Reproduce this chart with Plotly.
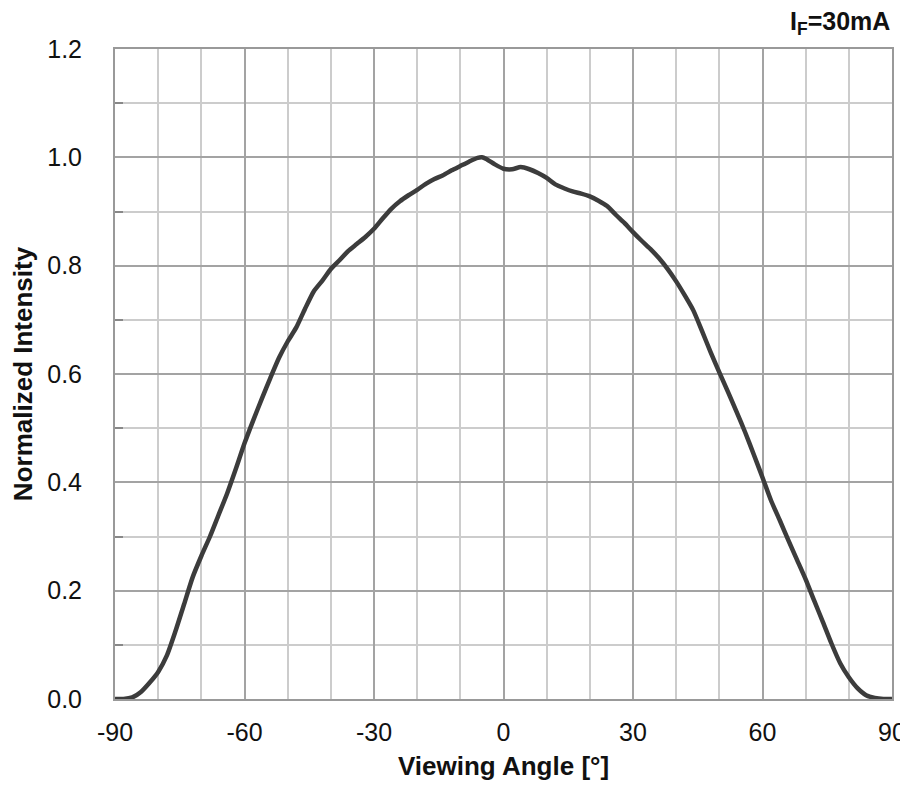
import plotly.graph_objects as go

angle = [-90, -88, -86, -84, -82, -80, -78, -76, -74, -72, -70, -68, -66, -64, -62, -60,
         -58, -56, -54, -52, -50, -48, -46, -44, -42, -40, -38, -36, -34, -32, -30,
         -28, -26, -24, -22, -20, -18, -16, -14, -12, -10, -8, -6, -5, -4, -2, 0,
         2, 4, 6, 8, 10, 12, 14, 16, 18, 20, 22, 24, 26, 28, 30,
         32, 34, 36, 38, 40, 42, 44, 46, 48, 50, 52, 54, 56, 58, 60,
         62, 64, 66, 68, 70, 72, 74, 76, 78, 80, 82, 84, 86, 88, 90]
intensity = [0.000, 0.000, 0.003, 0.013, 0.030, 0.050, 0.080, 0.125, 0.175, 0.225, 0.264, 0.300,
             0.340, 0.380, 0.425, 0.472, 0.514, 0.554, 0.593, 0.630, 0.660, 0.686, 0.720, 0.752,
             0.772, 0.794, 0.810, 0.827, 0.840, 0.853, 0.868, 0.887, 0.905, 0.919, 0.930, 0.940,
             0.951, 0.960, 0.967, 0.976, 0.984, 0.992, 0.999, 1.000, 0.997, 0.987, 0.979,
             0.978, 0.982, 0.978, 0.971, 0.962, 0.950, 0.943, 0.937, 0.933, 0.928, 0.920, 0.910,
             0.894, 0.879, 0.862, 0.846, 0.831, 0.814, 0.794, 0.771, 0.745, 0.717, 0.679, 0.640,
             0.603, 0.567, 0.530, 0.492, 0.451, 0.409, 0.366, 0.330, 0.293, 0.257, 0.221, 0.181,
             0.142, 0.102, 0.066, 0.040, 0.020, 0.007, 0.002, 0.000, 0.000]

x_ticks = [-90, -60, -30, 0, 30, 60, 90]
y_ticks = [0.0, 0.2, 0.4, 0.6, 0.8, 1.0, 1.2]

fig = go.Figure()
fig.add_trace(go.Scatter(x=angle, y=intensity, mode="lines",
                         line=dict(color="#3c3c3c", width=4.5, shape="spline", smoothing=0.6),
                         showlegend=False, hoverinfo="skip"))

font_family = "Liberation Sans, Arial, sans-serif"
major_grid = "#a3a3a3"
minor_grid = "#cccccc"

# page has an 8px body margin, so the figure is sized to fit the 908x791 window
fig.update_layout(
    width=900, height=783,
    margin=dict(l=107, r=16, t=41, b=92),
    paper_bgcolor="white", plot_bgcolor="white",
    font=dict(family=font_family, color="#111111", size=25),
)
fig.update_xaxes(
    range=[-90, 90], tickvals=x_ticks, ticktext=[str(v) for v in x_ticks],
    showgrid=True, gridcolor=major_grid, gridwidth=1.5,
    minor=dict(tickvals=list(range(-80, 90, 10)), showgrid=True, gridcolor=minor_grid, gridwidth=1.5),
    showline=True, linecolor="#999999", linewidth=2, mirror=True,
    zeroline=False, ticks="", ticklabelstandoff=10,
    tickfont=dict(size=25, family=font_family, color="#111111"),
    title=dict(text="<b>Viewing Angle [°]</b>", font=dict(size=26, family=font_family, color="#111111"),
               standoff=12),
    automargin=False,
)
fig.update_yaxes(
    range=[0, 1.2], tickvals=y_ticks, ticktext=[f"{v:.1f}" for v in y_ticks],
    showgrid=True, gridcolor=major_grid, gridwidth=1.5,
    minor=dict(tickvals=[0.1, 0.3, 0.5, 0.7, 0.9, 1.1], showgrid=True, gridcolor=minor_grid, gridwidth=1.5,
               ticks="inside", ticklen=8, tickcolor="#888888", tickwidth=1.5),
    showline=True, linecolor="#999999", linewidth=2, mirror=True,
    zeroline=False, ticks="", ticklabelstandoff=26,
    tickfont=dict(size=25, family=font_family, color="#111111"),
    title=dict(text="<b>Normalized Intensity</b>", font=dict(size=26, family=font_family, color="#111111"),
               standoff=9),
    automargin=False,
)
fig.add_annotation(
    text="<b>I<sub>F</sub>=30mA</b>", xref="paper", yref="paper", x=1.0, y=1.0,
    xanchor="right", yanchor="bottom", yshift=8, showarrow=False,
    font=dict(size=25, family=font_family, color="#111111"),
)

fig.write_html("out.html")
